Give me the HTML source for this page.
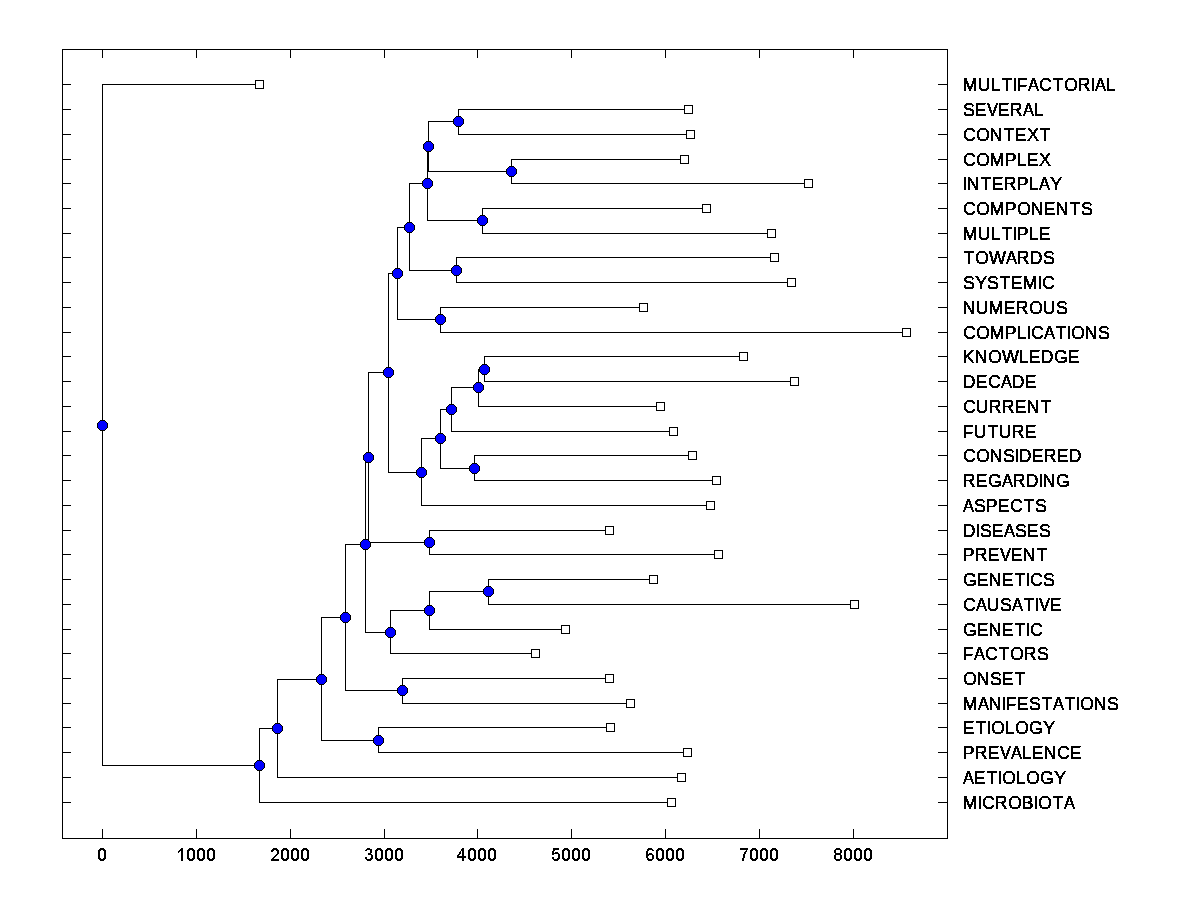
<!DOCTYPE html>
<html><head><meta charset="utf-8"><title>Dendrogram</title>
<style>
html,body{margin:0;padding:0;background:#fff;}
body{width:1200px;height:900px;overflow:hidden;}
svg{display:block;}
text{font-family:"Liberation Sans",sans-serif;font-size:18px;fill:#000;font-kerning:normal;}
</style></head><body>
<svg width="1200" height="900" viewBox="0 0 1200 900">
<defs>
<filter id="th" x="0" y="0" width="1200" height="900" filterUnits="userSpaceOnUse" color-interpolation-filters="sRGB"><feComponentTransfer><feFuncA type="discrete" tableValues="0 1 1"/></feComponentTransfer></filter>
<g id="sq"><rect x="-4" y="-4" width="9" height="9" fill="#000"/><rect x="-3" y="-3" width="7" height="7" fill="#fff"/></g>
<g id="nd"><rect x="-2" y="-5" width="5" height="1" fill="#000"/><rect x="-3" y="-4" width="7" height="1" fill="#000"/><rect x="-2" y="-4" width="5" height="1" fill="#00f"/><rect x="-4" y="-3" width="9" height="1" fill="#000"/><rect x="-3" y="-3" width="7" height="1" fill="#00f"/><rect x="-5" y="-2" width="11" height="1" fill="#000"/><rect x="-4" y="-2" width="9" height="1" fill="#00f"/><rect x="-5" y="-1" width="11" height="1" fill="#000"/><rect x="-4" y="-1" width="9" height="1" fill="#00f"/><rect x="-5" y="0" width="11" height="1" fill="#000"/><rect x="-4" y="0" width="9" height="1" fill="#00f"/><rect x="-5" y="1" width="11" height="1" fill="#000"/><rect x="-4" y="1" width="9" height="1" fill="#00f"/><rect x="-5" y="2" width="11" height="1" fill="#000"/><rect x="-4" y="2" width="9" height="1" fill="#00f"/><rect x="-4" y="3" width="9" height="1" fill="#000"/><rect x="-3" y="3" width="7" height="1" fill="#00f"/><rect x="-3" y="4" width="7" height="1" fill="#000"/><rect x="-2" y="4" width="5" height="1" fill="#00f"/><rect x="-2" y="5" width="5" height="1" fill="#000"/></g>
<g id="d0"><rect x="2" y="0" width="4" height="1"/><rect x="1" y="1" width="6" height="1"/><rect x="0" y="2" width="3" height="1"/><rect x="5" y="2" width="3" height="1"/><rect x="0" y="3" width="2" height="1"/><rect x="6" y="3" width="2" height="1"/><rect x="0" y="4" width="2" height="1"/><rect x="6" y="4" width="2" height="1"/><rect x="0" y="5" width="2" height="1"/><rect x="6" y="5" width="2" height="1"/><rect x="0" y="6" width="2" height="1"/><rect x="6" y="6" width="2" height="1"/><rect x="0" y="7" width="2" height="1"/><rect x="6" y="7" width="2" height="1"/><rect x="0" y="8" width="2" height="1"/><rect x="6" y="8" width="2" height="1"/><rect x="0" y="9" width="2" height="1"/><rect x="6" y="9" width="2" height="1"/><rect x="0" y="10" width="3" height="1"/><rect x="5" y="10" width="3" height="1"/><rect x="1" y="11" width="6" height="1"/><rect x="2" y="12" width="4" height="1"/></g><g id="d1"><rect x="4" y="0" width="2" height="1"/><rect x="3" y="1" width="3" height="1"/><rect x="2" y="2" width="4" height="1"/><rect x="1" y="3" width="2" height="1"/><rect x="4" y="3" width="2" height="1"/><rect x="1" y="4" width="1" height="1"/><rect x="4" y="4" width="2" height="1"/><rect x="4" y="5" width="2" height="1"/><rect x="4" y="6" width="2" height="1"/><rect x="4" y="7" width="2" height="1"/><rect x="4" y="8" width="2" height="1"/><rect x="4" y="9" width="2" height="1"/><rect x="4" y="10" width="2" height="1"/><rect x="4" y="11" width="2" height="1"/><rect x="4" y="12" width="2" height="1"/></g><g id="d2"><rect x="2" y="0" width="4" height="1"/><rect x="1" y="1" width="6" height="1"/><rect x="0" y="2" width="3" height="1"/><rect x="5" y="2" width="3" height="1"/><rect x="0" y="3" width="2" height="1"/><rect x="6" y="3" width="2" height="1"/><rect x="6" y="4" width="2" height="1"/><rect x="6" y="5" width="2" height="1"/><rect x="5" y="6" width="2" height="1"/><rect x="4" y="7" width="2" height="1"/><rect x="3" y="8" width="2" height="1"/><rect x="2" y="9" width="2" height="1"/><rect x="1" y="10" width="2" height="1"/><rect x="0" y="11" width="8" height="1"/><rect x="0" y="12" width="8" height="1"/></g><g id="d3"><rect x="2" y="0" width="3" height="1"/><rect x="1" y="1" width="6" height="1"/><rect x="0" y="2" width="2" height="1"/><rect x="5" y="2" width="2" height="1"/><rect x="5" y="3" width="2" height="1"/><rect x="5" y="4" width="2" height="1"/><rect x="3" y="5" width="3" height="1"/><rect x="3" y="6" width="4" height="1"/><rect x="6" y="7" width="2" height="1"/><rect x="6" y="8" width="2" height="1"/><rect x="0" y="9" width="2" height="1"/><rect x="6" y="9" width="2" height="1"/><rect x="0" y="10" width="2" height="1"/><rect x="5" y="10" width="3" height="1"/><rect x="1" y="11" width="6" height="1"/><rect x="2" y="12" width="4" height="1"/></g><g id="d4"><rect x="4" y="0" width="2" height="1"/><rect x="3" y="1" width="3" height="1"/><rect x="3" y="2" width="3" height="1"/><rect x="2" y="3" width="1" height="1"/><rect x="4" y="3" width="2" height="1"/><rect x="1" y="4" width="2" height="1"/><rect x="4" y="4" width="2" height="1"/><rect x="1" y="5" width="2" height="1"/><rect x="4" y="5" width="2" height="1"/><rect x="0" y="6" width="2" height="1"/><rect x="4" y="6" width="2" height="1"/><rect x="-1" y="7" width="2" height="1"/><rect x="4" y="7" width="2" height="1"/><rect x="-1" y="8" width="9" height="1"/><rect x="-1" y="9" width="9" height="1"/><rect x="4" y="10" width="2" height="1"/><rect x="4" y="11" width="2" height="1"/><rect x="4" y="12" width="2" height="1"/></g><g id="d5"><rect x="1" y="0" width="6" height="1"/><rect x="1" y="1" width="6" height="1"/><rect x="1" y="2" width="2" height="1"/><rect x="0" y="3" width="2" height="1"/><rect x="0" y="4" width="2" height="1"/><rect x="3" y="4" width="3" height="1"/><rect x="0" y="5" width="7" height="1"/><rect x="0" y="6" width="2" height="1"/><rect x="6" y="6" width="2" height="1"/><rect x="6" y="7" width="2" height="1"/><rect x="6" y="8" width="2" height="1"/><rect x="0" y="9" width="2" height="1"/><rect x="6" y="9" width="2" height="1"/><rect x="0" y="10" width="2" height="1"/><rect x="5" y="10" width="3" height="1"/><rect x="1" y="11" width="6" height="1"/><rect x="2" y="12" width="4" height="1"/></g><g id="d6"><rect x="2" y="0" width="4" height="1"/><rect x="1" y="1" width="6" height="1"/><rect x="1" y="2" width="2" height="1"/><rect x="6" y="2" width="2" height="1"/><rect x="0" y="3" width="2" height="1"/><rect x="0" y="4" width="2" height="1"/><rect x="0" y="5" width="2" height="1"/><rect x="3" y="5" width="3" height="1"/><rect x="0" y="6" width="7" height="1"/><rect x="0" y="7" width="3" height="1"/><rect x="6" y="7" width="2" height="1"/><rect x="0" y="8" width="2" height="1"/><rect x="6" y="8" width="2" height="1"/><rect x="0" y="9" width="2" height="1"/><rect x="6" y="9" width="2" height="1"/><rect x="1" y="10" width="2" height="1"/><rect x="6" y="10" width="2" height="1"/><rect x="1" y="11" width="6" height="1"/><rect x="2" y="12" width="4" height="1"/></g><g id="d7"><rect x="0" y="0" width="8" height="1"/><rect x="0" y="1" width="8" height="1"/><rect x="6" y="2" width="1" height="1"/><rect x="5" y="3" width="2" height="1"/><rect x="4" y="4" width="2" height="1"/><rect x="4" y="5" width="2" height="1"/><rect x="3" y="6" width="2" height="1"/><rect x="3" y="7" width="2" height="1"/><rect x="3" y="8" width="2" height="1"/><rect x="3" y="9" width="2" height="1"/><rect x="2" y="10" width="2" height="1"/><rect x="2" y="11" width="2" height="1"/><rect x="2" y="12" width="2" height="1"/></g><g id="d8"><rect x="2" y="0" width="4" height="1"/><rect x="1" y="1" width="6" height="1"/><rect x="0" y="2" width="2" height="1"/><rect x="6" y="2" width="2" height="1"/><rect x="0" y="3" width="2" height="1"/><rect x="6" y="3" width="2" height="1"/><rect x="0" y="4" width="2" height="1"/><rect x="6" y="4" width="2" height="1"/><rect x="1" y="5" width="6" height="1"/><rect x="1" y="6" width="6" height="1"/><rect x="0" y="7" width="2" height="1"/><rect x="6" y="7" width="2" height="1"/><rect x="0" y="8" width="2" height="1"/><rect x="6" y="8" width="2" height="1"/><rect x="0" y="9" width="2" height="1"/><rect x="6" y="9" width="2" height="1"/><rect x="0" y="10" width="2" height="1"/><rect x="6" y="10" width="2" height="1"/><rect x="1" y="11" width="6" height="1"/><rect x="2" y="12" width="4" height="1"/></g>
</defs>
<rect x="0" y="0" width="1200" height="900" fill="#fff"/>
<g fill="#000" shape-rendering="crispEdges">
<rect x="62" y="49" width="886" height="1"/>
<rect x="62" y="838" width="886" height="1"/>
<rect x="62" y="49" width="1" height="790"/>
<rect x="947" y="49" width="1" height="790"/>
<rect x="102" y="49" width="1" height="9"/>
<rect x="102" y="829" width="1" height="10"/>
<rect x="196" y="49" width="1" height="9"/>
<rect x="196" y="829" width="1" height="10"/>
<rect x="290" y="49" width="1" height="9"/>
<rect x="290" y="829" width="1" height="10"/>
<rect x="384" y="49" width="1" height="9"/>
<rect x="384" y="829" width="1" height="10"/>
<rect x="477" y="49" width="1" height="9"/>
<rect x="477" y="829" width="1" height="10"/>
<rect x="571" y="49" width="1" height="9"/>
<rect x="571" y="829" width="1" height="10"/>
<rect x="665" y="49" width="1" height="9"/>
<rect x="665" y="829" width="1" height="10"/>
<rect x="759" y="49" width="1" height="9"/>
<rect x="759" y="829" width="1" height="10"/>
<rect x="853" y="49" width="1" height="9"/>
<rect x="853" y="829" width="1" height="10"/>
<rect x="62" y="84" width="9" height="1"/>
<rect x="938" y="84" width="10" height="1"/>
<rect x="62" y="109" width="9" height="1"/>
<rect x="938" y="109" width="10" height="1"/>
<rect x="62" y="134" width="9" height="1"/>
<rect x="938" y="134" width="10" height="1"/>
<rect x="62" y="159" width="9" height="1"/>
<rect x="938" y="159" width="10" height="1"/>
<rect x="62" y="183" width="9" height="1"/>
<rect x="938" y="183" width="10" height="1"/>
<rect x="62" y="208" width="9" height="1"/>
<rect x="938" y="208" width="10" height="1"/>
<rect x="62" y="233" width="9" height="1"/>
<rect x="938" y="233" width="10" height="1"/>
<rect x="62" y="257" width="9" height="1"/>
<rect x="938" y="257" width="10" height="1"/>
<rect x="62" y="282" width="9" height="1"/>
<rect x="938" y="282" width="10" height="1"/>
<rect x="62" y="307" width="9" height="1"/>
<rect x="938" y="307" width="10" height="1"/>
<rect x="62" y="332" width="9" height="1"/>
<rect x="938" y="332" width="10" height="1"/>
<rect x="62" y="356" width="9" height="1"/>
<rect x="938" y="356" width="10" height="1"/>
<rect x="62" y="381" width="9" height="1"/>
<rect x="938" y="381" width="10" height="1"/>
<rect x="62" y="406" width="9" height="1"/>
<rect x="938" y="406" width="10" height="1"/>
<rect x="62" y="431" width="9" height="1"/>
<rect x="938" y="431" width="10" height="1"/>
<rect x="62" y="455" width="9" height="1"/>
<rect x="938" y="455" width="10" height="1"/>
<rect x="62" y="480" width="9" height="1"/>
<rect x="938" y="480" width="10" height="1"/>
<rect x="62" y="505" width="9" height="1"/>
<rect x="938" y="505" width="10" height="1"/>
<rect x="62" y="530" width="9" height="1"/>
<rect x="938" y="530" width="10" height="1"/>
<rect x="62" y="554" width="9" height="1"/>
<rect x="938" y="554" width="10" height="1"/>
<rect x="62" y="579" width="9" height="1"/>
<rect x="938" y="579" width="10" height="1"/>
<rect x="62" y="604" width="9" height="1"/>
<rect x="938" y="604" width="10" height="1"/>
<rect x="62" y="629" width="9" height="1"/>
<rect x="938" y="629" width="10" height="1"/>
<rect x="62" y="653" width="9" height="1"/>
<rect x="938" y="653" width="10" height="1"/>
<rect x="62" y="678" width="9" height="1"/>
<rect x="938" y="678" width="10" height="1"/>
<rect x="62" y="703" width="9" height="1"/>
<rect x="938" y="703" width="10" height="1"/>
<rect x="62" y="727" width="9" height="1"/>
<rect x="938" y="727" width="10" height="1"/>
<rect x="62" y="752" width="9" height="1"/>
<rect x="938" y="752" width="10" height="1"/>
<rect x="62" y="777" width="9" height="1"/>
<rect x="938" y="777" width="10" height="1"/>
<rect x="62" y="802" width="9" height="1"/>
<rect x="938" y="802" width="10" height="1"/>
<rect x="458" y="109" width="1" height="26"/>
<rect x="458" y="109" width="231" height="1"/>
<rect x="458" y="134" width="233" height="1"/>
<rect x="511" y="159" width="1" height="25"/>
<rect x="511" y="159" width="174" height="1"/>
<rect x="511" y="183" width="298" height="1"/>
<rect x="428" y="121" width="1" height="51"/>
<rect x="428" y="121" width="31" height="1"/>
<rect x="428" y="171" width="84" height="1"/>
<rect x="482" y="208" width="1" height="26"/>
<rect x="482" y="208" width="225" height="1"/>
<rect x="482" y="233" width="290" height="1"/>
<rect x="427" y="146" width="1" height="75"/>
<rect x="427" y="146" width="2" height="1"/>
<rect x="427" y="220" width="56" height="1"/>
<rect x="456" y="257" width="1" height="26"/>
<rect x="456" y="257" width="319" height="1"/>
<rect x="456" y="282" width="336" height="1"/>
<rect x="409" y="183" width="1" height="88"/>
<rect x="409" y="183" width="19" height="1"/>
<rect x="409" y="270" width="48" height="1"/>
<rect x="440" y="307" width="1" height="26"/>
<rect x="440" y="307" width="204" height="1"/>
<rect x="440" y="332" width="467" height="1"/>
<rect x="397" y="227" width="1" height="93"/>
<rect x="397" y="227" width="13" height="1"/>
<rect x="397" y="319" width="44" height="1"/>
<rect x="484" y="356" width="1" height="26"/>
<rect x="484" y="356" width="260" height="1"/>
<rect x="484" y="381" width="311" height="1"/>
<rect x="478" y="369" width="1" height="38"/>
<rect x="478" y="369" width="7" height="1"/>
<rect x="478" y="406" width="183" height="1"/>
<rect x="451" y="387" width="1" height="45"/>
<rect x="451" y="387" width="28" height="1"/>
<rect x="451" y="431" width="223" height="1"/>
<rect x="474" y="455" width="1" height="26"/>
<rect x="474" y="455" width="219" height="1"/>
<rect x="474" y="480" width="243" height="1"/>
<rect x="440" y="409" width="1" height="60"/>
<rect x="440" y="409" width="12" height="1"/>
<rect x="440" y="468" width="35" height="1"/>
<rect x="421" y="438" width="1" height="68"/>
<rect x="421" y="438" width="20" height="1"/>
<rect x="421" y="505" width="290" height="1"/>
<rect x="388" y="273" width="1" height="200"/>
<rect x="388" y="273" width="10" height="1"/>
<rect x="388" y="472" width="34" height="1"/>
<rect x="429" y="530" width="1" height="25"/>
<rect x="429" y="530" width="181" height="1"/>
<rect x="429" y="554" width="290" height="1"/>
<rect x="368" y="372" width="1" height="171"/>
<rect x="368" y="372" width="21" height="1"/>
<rect x="368" y="542" width="62" height="1"/>
<rect x="488" y="579" width="1" height="26"/>
<rect x="488" y="579" width="166" height="1"/>
<rect x="488" y="604" width="367" height="1"/>
<rect x="429" y="591" width="1" height="39"/>
<rect x="429" y="591" width="60" height="1"/>
<rect x="429" y="629" width="137" height="1"/>
<rect x="390" y="610" width="1" height="44"/>
<rect x="390" y="610" width="40" height="1"/>
<rect x="390" y="653" width="146" height="1"/>
<rect x="365" y="457" width="1" height="176"/>
<rect x="365" y="457" width="4" height="1"/>
<rect x="365" y="632" width="26" height="1"/>
<rect x="402" y="678" width="1" height="26"/>
<rect x="402" y="678" width="208" height="1"/>
<rect x="402" y="703" width="229" height="1"/>
<rect x="345" y="544" width="1" height="147"/>
<rect x="345" y="544" width="21" height="1"/>
<rect x="345" y="690" width="58" height="1"/>
<rect x="378" y="727" width="1" height="26"/>
<rect x="378" y="727" width="233" height="1"/>
<rect x="378" y="752" width="310" height="1"/>
<rect x="321" y="617" width="1" height="124"/>
<rect x="321" y="617" width="25" height="1"/>
<rect x="321" y="740" width="58" height="1"/>
<rect x="277" y="679" width="1" height="99"/>
<rect x="277" y="679" width="45" height="1"/>
<rect x="277" y="777" width="405" height="1"/>
<rect x="259" y="728" width="1" height="75"/>
<rect x="259" y="728" width="19" height="1"/>
<rect x="259" y="802" width="413" height="1"/>
<rect x="102" y="84" width="1" height="682"/>
<rect x="102" y="84" width="158" height="1"/>
<rect x="102" y="765" width="158" height="1"/>
</g>
<g shape-rendering="crispEdges">
<use href="#sq" x="259" y="84"/>
<use href="#sq" x="688" y="109"/>
<use href="#sq" x="690" y="134"/>
<use href="#sq" x="684" y="159"/>
<use href="#sq" x="808" y="183"/>
<use href="#sq" x="706" y="208"/>
<use href="#sq" x="771" y="233"/>
<use href="#sq" x="774" y="257"/>
<use href="#sq" x="791" y="282"/>
<use href="#sq" x="643" y="307"/>
<use href="#sq" x="906" y="332"/>
<use href="#sq" x="743" y="356"/>
<use href="#sq" x="794" y="381"/>
<use href="#sq" x="660" y="406"/>
<use href="#sq" x="673" y="431"/>
<use href="#sq" x="692" y="455"/>
<use href="#sq" x="716" y="480"/>
<use href="#sq" x="710" y="505"/>
<use href="#sq" x="609" y="530"/>
<use href="#sq" x="718" y="554"/>
<use href="#sq" x="653" y="579"/>
<use href="#sq" x="854" y="604"/>
<use href="#sq" x="565" y="629"/>
<use href="#sq" x="535" y="653"/>
<use href="#sq" x="609" y="678"/>
<use href="#sq" x="630" y="703"/>
<use href="#sq" x="610" y="727"/>
<use href="#sq" x="687" y="752"/>
<use href="#sq" x="681" y="777"/>
<use href="#sq" x="671" y="802"/>
<use href="#nd" x="458" y="121"/>
<use href="#nd" x="511" y="171"/>
<use href="#nd" x="428" y="146"/>
<use href="#nd" x="482" y="220"/>
<use href="#nd" x="427" y="183"/>
<use href="#nd" x="456" y="270"/>
<use href="#nd" x="409" y="227"/>
<use href="#nd" x="440" y="319"/>
<use href="#nd" x="397" y="273"/>
<use href="#nd" x="484" y="369"/>
<use href="#nd" x="478" y="387"/>
<use href="#nd" x="451" y="409"/>
<use href="#nd" x="474" y="468"/>
<use href="#nd" x="440" y="438"/>
<use href="#nd" x="421" y="472"/>
<use href="#nd" x="388" y="372"/>
<use href="#nd" x="429" y="542"/>
<use href="#nd" x="368" y="457"/>
<use href="#nd" x="488" y="591"/>
<use href="#nd" x="429" y="610"/>
<use href="#nd" x="390" y="632"/>
<use href="#nd" x="365" y="544"/>
<use href="#nd" x="402" y="690"/>
<use href="#nd" x="345" y="617"/>
<use href="#nd" x="378" y="740"/>
<use href="#nd" x="321" y="679"/>
<use href="#nd" x="277" y="728"/>
<use href="#nd" x="259" y="765"/>
<use href="#nd" x="102" y="425"/>
</g>
<g fill="#000" shape-rendering="crispEdges">
<use href="#d0" x="98" y="848"/>
<use href="#d1" x="177" y="848"/>
<use href="#d0" x="187" y="848"/>
<use href="#d0" x="197" y="848"/>
<use href="#d0" x="207" y="848"/>
<use href="#d2" x="271" y="848"/>
<use href="#d0" x="281" y="848"/>
<use href="#d0" x="291" y="848"/>
<use href="#d0" x="301" y="848"/>
<use href="#d3" x="365" y="848"/>
<use href="#d0" x="375" y="848"/>
<use href="#d0" x="385" y="848"/>
<use href="#d0" x="395" y="848"/>
<use href="#d4" x="458" y="848"/>
<use href="#d0" x="468" y="848"/>
<use href="#d0" x="478" y="848"/>
<use href="#d0" x="488" y="848"/>
<use href="#d5" x="552" y="848"/>
<use href="#d0" x="562" y="848"/>
<use href="#d0" x="572" y="848"/>
<use href="#d0" x="582" y="848"/>
<use href="#d6" x="646" y="848"/>
<use href="#d0" x="656" y="848"/>
<use href="#d0" x="666" y="848"/>
<use href="#d0" x="676" y="848"/>
<use href="#d7" x="740" y="848"/>
<use href="#d0" x="750" y="848"/>
<use href="#d0" x="760" y="848"/>
<use href="#d0" x="770" y="848"/>
<use href="#d8" x="834" y="848"/>
<use href="#d0" x="844" y="848"/>
<use href="#d0" x="854" y="848"/>
<use href="#d0" x="864" y="848"/>
</g>
<g filter="url(#th)" stroke="#000" stroke-width="0.2">
<text x="962.5" y="91">M</text>
<text x="977.5" y="91">U</text>
<text x="990.5" y="91">L</text>
<text x="1001.6" y="91">T</text>
<text x="1012.33" y="91">I</text>
<text x="1016.5" y="91">F</text>
<text transform="translate(1028,91) scale(0.917,1)">A</text>
<text x="1039" y="91">C</text>
<text x="1052.6" y="91">T</text>
<text x="1064" y="91">O</text>
<text x="1077.5" y="91">R</text>
<text x="1090.33" y="91">I</text>
<text transform="translate(1095,91) scale(0.917,1)">A</text>
<text x="1105.5" y="91">L</text>
<text x="963" y="116">S</text>
<text x="974.5" y="116">E</text>
<text transform="translate(987,116) scale(0.917,1)">V</text>
<text x="997.5" y="116">E</text>
<text x="1009.5" y="116">R</text>
<text transform="translate(1023,116) scale(0.917,1)">A</text>
<text x="1033.5" y="116">L</text>
<text x="963" y="141">C</text>
<text x="976" y="141">O</text>
<text x="989.5" y="141">N</text>
<text x="1003.6" y="141">T</text>
<text x="1014.5" y="141">E</text>
<text x="1027" y="141">X</text>
<text x="1039.6" y="141">T</text>
<text x="963" y="166">C</text>
<text x="976" y="166">O</text>
<text x="989.5" y="166">M</text>
<text x="1004.5" y="166">P</text>
<text x="1016.5" y="166">L</text>
<text x="1026.5" y="166">E</text>
<text x="1039" y="166">X</text>
<text x="962.33" y="190">I</text>
<text x="966.5" y="190">N</text>
<text x="980.6" y="190">T</text>
<text x="991.5" y="190">E</text>
<text x="1003.5" y="190">R</text>
<text x="1016.5" y="190">P</text>
<text x="1028.5" y="190">L</text>
<text transform="translate(1039,190) scale(0.917,1)">A</text>
<text transform="translate(1049.95,190) scale(1.04,1)">Y</text>
<text x="963" y="215">C</text>
<text x="976" y="215">O</text>
<text x="989.5" y="215">M</text>
<text x="1004.5" y="215">P</text>
<text x="1017" y="215">O</text>
<text x="1030.5" y="215">N</text>
<text x="1043.5" y="215">E</text>
<text x="1055.5" y="215">N</text>
<text x="1069.6" y="215">T</text>
<text x="1081" y="215">S</text>
<text x="962.5" y="240">M</text>
<text x="977.5" y="240">U</text>
<text x="990.5" y="240">L</text>
<text x="1001.6" y="240">T</text>
<text x="1012.33" y="240">I</text>
<text x="1016.5" y="240">P</text>
<text x="1028.5" y="240">L</text>
<text x="1038.5" y="240">E</text>
<text x="963.6" y="264">T</text>
<text x="975" y="264">O</text>
<text x="989" y="264">W</text>
<text transform="translate(1006,264) scale(0.917,1)">A</text>
<text x="1016.5" y="264">R</text>
<text x="1029.5" y="264">D</text>
<text x="1043" y="264">S</text>
<text x="963" y="289">S</text>
<text transform="translate(974.95,289) scale(1.04,1)">Y</text>
<text x="987" y="289">S</text>
<text x="999.6" y="289">T</text>
<text x="1010.5" y="289">E</text>
<text x="1022.5" y="289">M</text>
<text x="1037.33" y="289">I</text>
<text x="1042" y="289">C</text>
<text x="962.5" y="314">N</text>
<text x="975.5" y="314">U</text>
<text x="988.5" y="314">M</text>
<text x="1003.5" y="314">E</text>
<text x="1015.5" y="314">R</text>
<text x="1029" y="314">O</text>
<text x="1042.5" y="314">U</text>
<text x="1056" y="314">S</text>
<text x="963" y="339">C</text>
<text x="976" y="339">O</text>
<text x="989.5" y="339">M</text>
<text x="1004.5" y="339">P</text>
<text x="1016.5" y="339">L</text>
<text x="1026.33" y="339">I</text>
<text x="1031" y="339">C</text>
<text transform="translate(1044,339) scale(0.917,1)">A</text>
<text x="1055.6" y="339">T</text>
<text x="1066.33" y="339">I</text>
<text x="1071" y="339">O</text>
<text x="1084.5" y="339">N</text>
<text x="1098" y="339">S</text>
<text x="962.5" y="363">K</text>
<text x="974.5" y="363">N</text>
<text x="988" y="363">O</text>
<text x="1002" y="363">W</text>
<text x="1018.5" y="363">L</text>
<text x="1028.5" y="363">E</text>
<text x="1040.5" y="363">D</text>
<text x="1054" y="363">G</text>
<text x="1067.5" y="363">E</text>
<text x="962.5" y="388">D</text>
<text x="975.5" y="388">E</text>
<text x="988" y="388">C</text>
<text transform="translate(1001,388) scale(0.917,1)">A</text>
<text x="1011.5" y="388">D</text>
<text x="1024.5" y="388">E</text>
<text x="963" y="413">C</text>
<text x="975.5" y="413">U</text>
<text x="988.5" y="413">R</text>
<text x="1001.5" y="413">R</text>
<text x="1014.5" y="413">E</text>
<text x="1026.5" y="413">N</text>
<text x="1040.6" y="413">T</text>
<text x="962.5" y="438">F</text>
<text x="973.5" y="438">U</text>
<text x="987.6" y="438">T</text>
<text x="998.5" y="438">U</text>
<text x="1011.5" y="438">R</text>
<text x="1024.5" y="438">E</text>
<text x="963" y="462">C</text>
<text x="976" y="462">O</text>
<text x="989.5" y="462">N</text>
<text x="1003" y="462">S</text>
<text x="1014.33" y="462">I</text>
<text x="1018.5" y="462">D</text>
<text x="1031.5" y="462">E</text>
<text x="1043.5" y="462">R</text>
<text x="1056.5" y="462">E</text>
<text x="1068.5" y="462">D</text>
<text x="962.5" y="487">R</text>
<text x="975.5" y="487">E</text>
<text x="988" y="487">G</text>
<text transform="translate(1002,487) scale(0.917,1)">A</text>
<text x="1012.5" y="487">R</text>
<text x="1025.5" y="487">D</text>
<text x="1038.33" y="487">I</text>
<text x="1042.5" y="487">N</text>
<text x="1056" y="487">G</text>
<text transform="translate(963,512) scale(0.917,1)">A</text>
<text x="974" y="512">S</text>
<text x="985.5" y="512">P</text>
<text x="997.5" y="512">E</text>
<text x="1010" y="512">C</text>
<text x="1023.6" y="512">T</text>
<text x="1035" y="512">S</text>
<text x="962.5" y="537">D</text>
<text x="975.33" y="537">I</text>
<text x="980" y="537">S</text>
<text x="991.5" y="537">E</text>
<text transform="translate(1004,537) scale(0.917,1)">A</text>
<text x="1015" y="537">S</text>
<text x="1026.5" y="537">E</text>
<text x="1039" y="537">S</text>
<text x="962.5" y="561">P</text>
<text x="974.5" y="561">R</text>
<text x="987.5" y="561">E</text>
<text transform="translate(1000,561) scale(0.917,1)">V</text>
<text x="1010.5" y="561">E</text>
<text x="1022.5" y="561">N</text>
<text x="1036.6" y="561">T</text>
<text x="963" y="586">G</text>
<text x="976.5" y="586">E</text>
<text x="988.5" y="586">N</text>
<text x="1001.5" y="586">E</text>
<text x="1014.6" y="586">T</text>
<text x="1025.33" y="586">I</text>
<text x="1030" y="586">C</text>
<text x="1043" y="586">S</text>
<text x="963" y="611">C</text>
<text transform="translate(976,611) scale(0.917,1)">A</text>
<text x="986.5" y="611">U</text>
<text x="1000" y="611">S</text>
<text transform="translate(1012,611) scale(0.917,1)">A</text>
<text x="1023.6" y="611">T</text>
<text x="1034.33" y="611">I</text>
<text transform="translate(1039,611) scale(0.917,1)">V</text>
<text x="1049.5" y="611">E</text>
<text x="963" y="636">G</text>
<text x="976.5" y="636">E</text>
<text x="988.5" y="636">N</text>
<text x="1001.5" y="636">E</text>
<text x="1014.6" y="636">T</text>
<text x="1025.33" y="636">I</text>
<text x="1030" y="636">C</text>
<text x="962.5" y="660">F</text>
<text transform="translate(974,660) scale(0.917,1)">A</text>
<text x="985" y="660">C</text>
<text x="998.6" y="660">T</text>
<text x="1010" y="660">O</text>
<text x="1023.5" y="660">R</text>
<text x="1037" y="660">S</text>
<text x="963" y="685">O</text>
<text x="976.5" y="685">N</text>
<text x="990" y="685">S</text>
<text x="1001.5" y="685">E</text>
<text x="1014.6" y="685">T</text>
<text x="962.5" y="710">M</text>
<text transform="translate(978,710) scale(0.917,1)">A</text>
<text x="988.5" y="710">N</text>
<text x="1001.33" y="710">I</text>
<text x="1005.5" y="710">F</text>
<text x="1016.5" y="710">E</text>
<text x="1029" y="710">S</text>
<text x="1041.6" y="710">T</text>
<text transform="translate(1053,710) scale(0.917,1)">A</text>
<text x="1064.6" y="710">T</text>
<text x="1075.33" y="710">I</text>
<text x="1080" y="710">O</text>
<text x="1093.5" y="710">N</text>
<text x="1107" y="710">S</text>
<text x="962.5" y="734">E</text>
<text x="975.6" y="734">T</text>
<text x="986.33" y="734">I</text>
<text x="991" y="734">O</text>
<text x="1004.5" y="734">L</text>
<text x="1015" y="734">O</text>
<text x="1029" y="734">G</text>
<text transform="translate(1042.95,734) scale(1.04,1)">Y</text>
<text x="962.5" y="759">P</text>
<text x="974.5" y="759">R</text>
<text x="987.5" y="759">E</text>
<text transform="translate(1000,759) scale(0.917,1)">V</text>
<text transform="translate(1011,759) scale(0.917,1)">A</text>
<text x="1021.5" y="759">L</text>
<text x="1031.5" y="759">E</text>
<text x="1043.5" y="759">N</text>
<text x="1057" y="759">C</text>
<text x="1069.5" y="759">E</text>
<text transform="translate(963,784) scale(0.917,1)">A</text>
<text x="973.5" y="784">E</text>
<text x="986.6" y="784">T</text>
<text x="997.33" y="784">I</text>
<text x="1002" y="784">O</text>
<text x="1015.5" y="784">L</text>
<text x="1026" y="784">O</text>
<text x="1040" y="784">G</text>
<text transform="translate(1053.95,784) scale(1.04,1)">Y</text>
<text x="962.5" y="809">M</text>
<text x="977.33" y="809">I</text>
<text x="982" y="809">C</text>
<text x="994.5" y="809">R</text>
<text x="1008" y="809">O</text>
<text x="1021.5" y="809">B</text>
<text x="1033.33" y="809">I</text>
<text x="1038" y="809">O</text>
<text x="1052.6" y="809">T</text>
<text transform="translate(1064,809) scale(0.917,1)">A</text>
</g>
</svg>
</body></html>
